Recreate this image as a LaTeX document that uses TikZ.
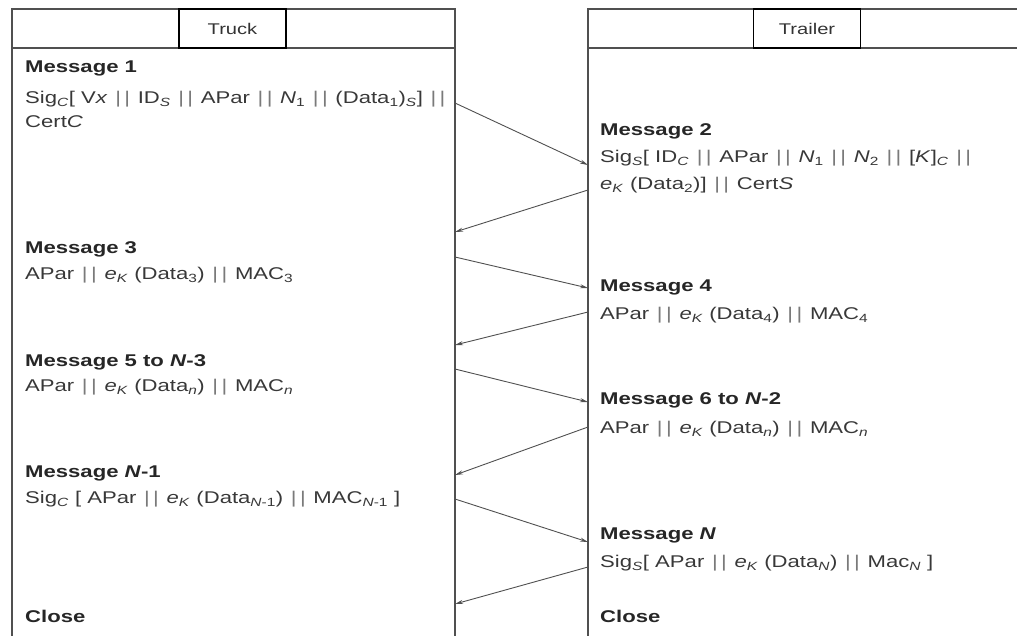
\documentclass[tikz,border=0pt]{standalone}
\usepackage{fontspec}
\setmainfont{Liberation Sans}[FakeStretch=1.3]
\usetikzlibrary{arrows.meta}
\definecolor{lane}{HTML}{505050}
\definecolor{txt}{HTML}{383838}
\definecolor{bar}{HTML}{7A7A7A}
\newcommand\cc{\hspace{0.45em}{\color{bar}|\hspace{0.2em}|}\hspace{0.45em}}
\newcommand\sub[1]{\textsubscript{#1}}
\newcommand\isub[1]{\textsubscript{\textit{#1}}}
\begin{document}
\begin{tikzpicture}[x=1pt,y=-1pt,
    msg/.style={anchor=base west,inner sep=0pt,text=txt,font=\fontsize{17}{20}\selectfont},
    head/.style={msg,text=black!85,font=\fontsize{17}{20}\selectfont\bfseries},
    actor/.style={draw=black,line width=1.5pt,minimum width=107pt,minimum height=39pt,
        inner sep=0pt,text=black!80,font=\fontsize{15.5}{18}\selectfont},
    flow/.style={draw=lane,line width=0.9pt,-{Stealth[length=8pt,width=4pt]}}]
    \useasboundingbox (0,0) rectangle (1017,635);
    \def\L{25}
    \def\R{600}
    % ---- lanes ----
    \draw[lane,line width=2.2pt] (12,640) -- (12,9) -- (455,9) -- (455,640);
    \draw[lane,line width=2.2pt] (12,48) -- (455,48);
    \draw[lane,line width=2.2pt] (588,640) -- (588,9) -- (1020,9);
    \draw[lane,line width=2.2pt] (588,48) -- (1020,48);
    \node[actor] (truck) at (232.5,28.5) {Truck};
    \node[actor] (trailer) at (807,28.5) {Trailer};
    % ---- truck side ----
    \node[head] (m1) at (\L,72.5) {Message 1};
    \node[msg] (m1a) at (\L,103.5) {Sig\isub{C}[ V\textit{x}\cc ID\isub{S}\cc APar\cc \textit{N}\sub{1}\cc (Data\sub{1})\isub{S}]\cc};
    \node[msg] (m1b) at (\L,127.5) {Cert\textit{C}};
    \node[head] (m3) at (\L,253.5) {Message 3};
    \node[msg] (m3a) at (\L,279.5) {APar\cc \textit{e}\isub{K} (Data\sub{3})\cc MAC\sub{3}};
    \node[head] (m5) at (\L,366.5) {Message 5 to \textit{N}-3};
    \node[msg] (m5a) at (\L,391.5) {APar\cc \textit{e}\isub{K} (Data\textsubscript{\textit{n}})\cc MAC\textsubscript{\textit{n}}};
    \node[head] (mn1) at (\L,477.5) {Message \textit{N}-1};
    \node[msg] (mn1a) at (\L,503.5) {Sig\isub{C} [ APar\cc \textit{e}\isub{K} (Data\textsubscript{\textit{N}-1})\cc MAC\textsubscript{\textit{N}-1} ]};
    \node[head] (cl1) at (\L,622.5) {Close};
    % ---- trailer side ----
    \node[head] (m2) at (\R,135.5) {Message 2};
    \node[msg] (m2a) at (\R,162.5) {Sig\isub{S}[ ID\isub{C}\cc APar\cc \textit{N}\sub{1}\cc \textit{N}\sub{2}\cc [\textit{K}]\isub{C}\cc};
    \node[msg] (m2b) at (\R,189.5) {\textit{e}\isub{K} (Data\sub{2})]\cc Cert\textit{S}};
    \node[head] (m4) at (\R,291.5) {Message 4};
    \node[msg] (m4a) at (\R,319.5) {APar\cc \textit{e}\isub{K} (Data\sub{4})\cc MAC\sub{4}};
    \node[head] (m6) at (\R,404.5) {Message 6 to \textit{N}-2};
    \node[msg] (m6a) at (\R,433.5) {APar\cc \textit{e}\isub{K} (Data\textsubscript{\textit{n}})\cc MAC\textsubscript{\textit{n}}};
    \node[head] (mn) at (\R,539.5) {Message \textit{N}};
    \node[msg] (mna) at (\R,567.5) {Sig\isub{S}[ APar\cc \textit{e}\isub{K} (Data\isub{N})\cc Mac\isub{N} ]};
    \node[head] (cl2) at (\R,622.5) {Close};
    % ---- flows ----
    \foreach \n/\y in {1/103,2/232,3/257,4/345,5/369,6/475,7/499,8/604}
        \coordinate (t\n) at (455,\y);
    \foreach \n/\y in {1/165,2/190,3/288,4/312,5/402,6/427,7/542,8/567}
        \coordinate (r\n) at (588,\y);
    \foreach \n in {1,3,5,7}
        \draw[flow] (t\n) -- (r\n);
    \foreach \n in {2,4,6,8}
        \draw[flow] (r\n) -- (t\n);
\end{tikzpicture}
\end{document}
